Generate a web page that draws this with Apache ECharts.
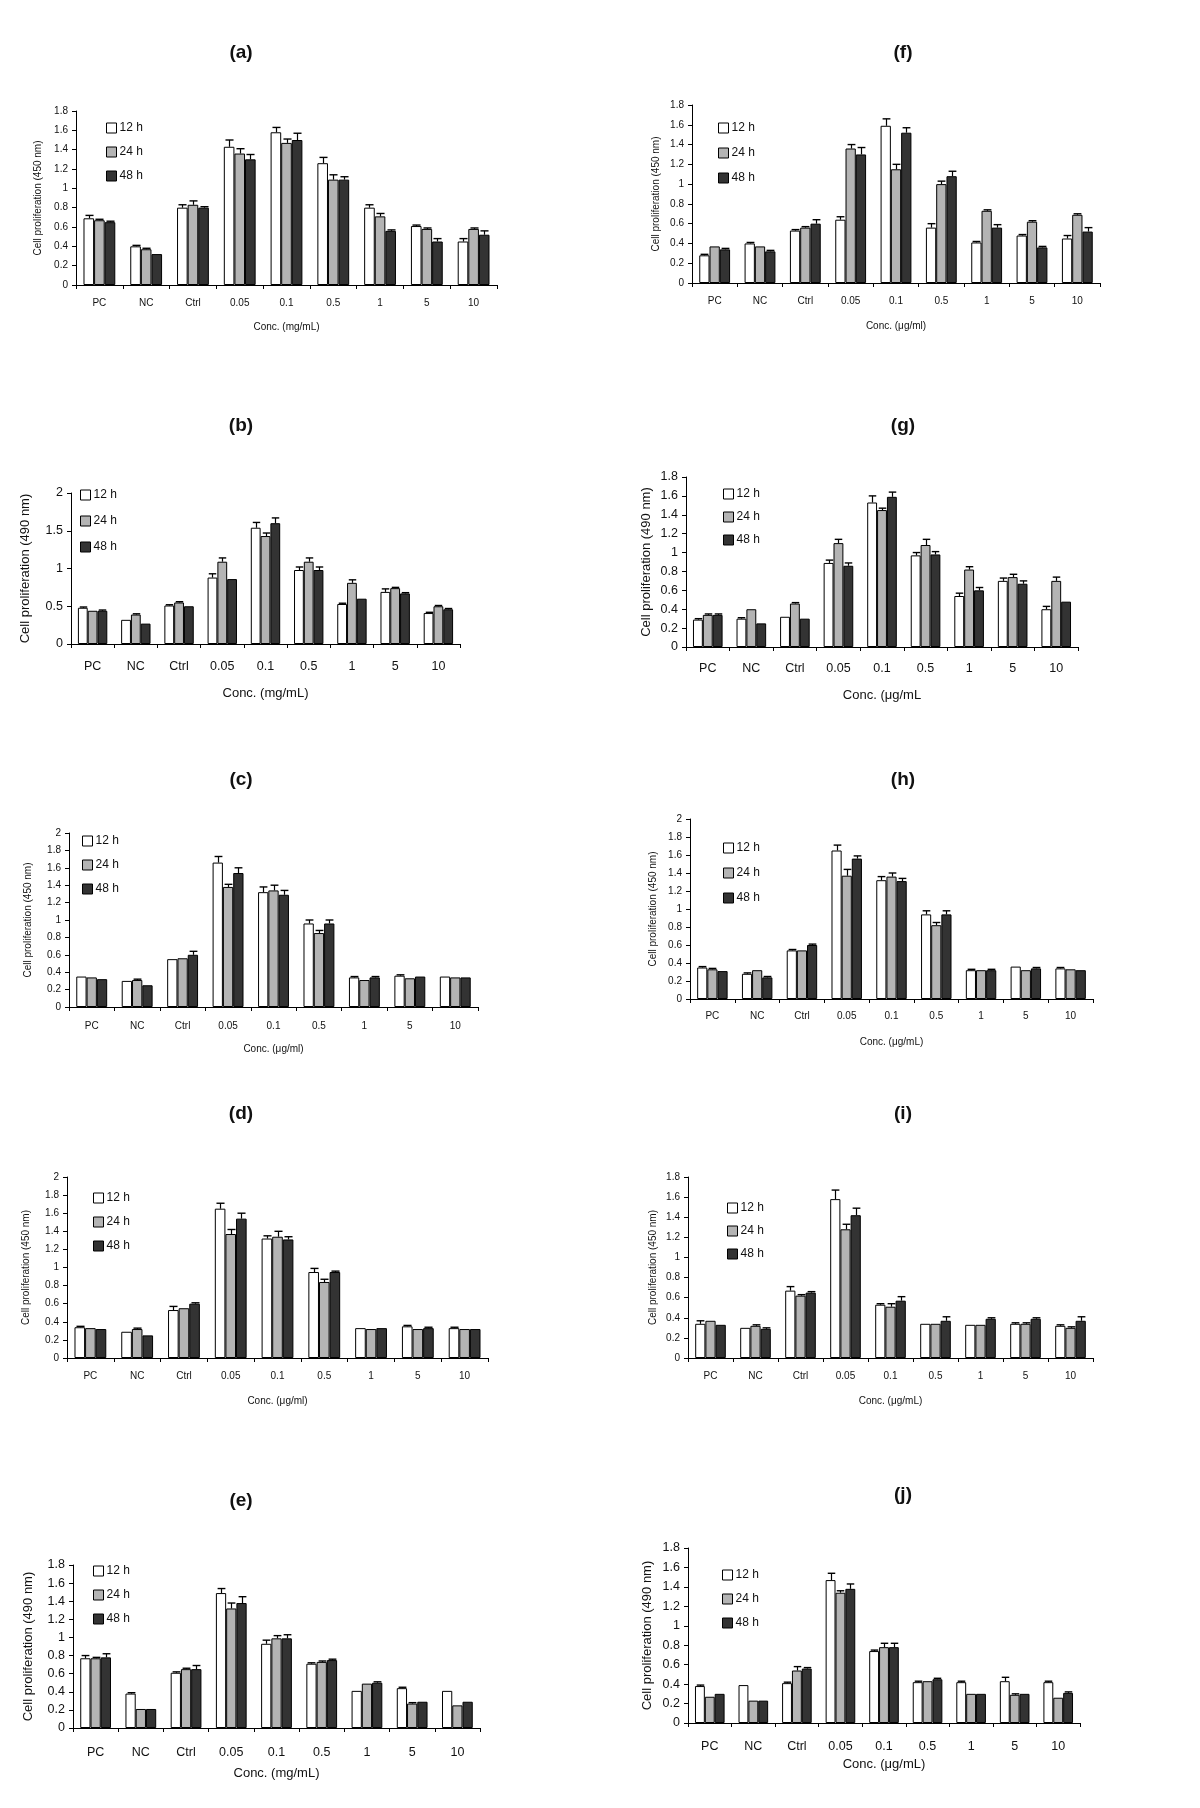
<!DOCTYPE html>
<html>
<head>
<meta charset="utf-8">
<script src="https://cdn.jsdelivr.net/npm/echarts@6/dist/echarts.min.js"></script>
<style>
html,body{margin:0;padding:0;background:#fff;}
#chart{width:1200px;height:1808px;}
</style>
</head>
<body>
<div id="chart"></div>
<script>
// ---------- shared ----------
const categories = ['PC', 'NC', 'Ctrl', '0.05', '0.1', '0.5', '1', '5', '10'];
const seriesNames = ['12 h', '24 h', '48 h'];

// ---------- panel (a) ----------
const a_12h = [0.69, 0.40, 0.80, 1.43, 1.58, 1.26, 0.80, 0.61, 0.45];
const a_24h = [0.67, 0.37, 0.83, 1.36, 1.47, 1.09, 0.71, 0.58, 0.58];
const a_48h = [0.65, 0.32, 0.80, 1.30, 1.50, 1.09, 0.56, 0.45, 0.52];
const a_e12 = [0.03, 0.01, 0.03, 0.07, 0.05, 0.06, 0.03, 0.01, 0.03];
const a_e24 = [0.01, 0.01, 0.04, 0.05, 0.04, 0.05, 0.03, 0.01, 0.01];
const a_e48 = [0.01, 0.00, 0.01, 0.05, 0.07, 0.03, 0.01, 0.03, 0.04];

// ---------- panel (f) ----------
const f_12h = [0.28, 0.40, 0.53, 0.64, 1.59, 0.56, 0.41, 0.48, 0.45];
const f_24h = [0.37, 0.37, 0.56, 1.36, 1.15, 1.00, 0.73, 0.62, 0.69];
const f_48h = [0.34, 0.32, 0.60, 1.30, 1.52, 1.08, 0.56, 0.36, 0.52];
const f_e12 = [0.01, 0.01, 0.01, 0.03, 0.07, 0.04, 0.01, 0.01, 0.03];
const f_e24 = [0.00, 0.00, 0.01, 0.04, 0.05, 0.03, 0.01, 0.01, 0.01];
const f_e48 = [0.01, 0.01, 0.04, 0.07, 0.05, 0.05, 0.03, 0.01, 0.04];

// ---------- panel (b) ----------
const b_12h = [0.48, 0.32, 0.51, 0.88, 1.54, 0.98, 0.53, 0.69, 0.41];
const b_24h = [0.44, 0.39, 0.55, 1.09, 1.43, 1.09, 0.81, 0.74, 0.50];
const b_48h = [0.44, 0.27, 0.50, 0.86, 1.60, 0.98, 0.60, 0.67, 0.46];
const b_e12 = [0.01, 0.00, 0.01, 0.05, 0.07, 0.04, 0.01, 0.04, 0.01];
const b_e24 = [0.00, 0.01, 0.01, 0.05, 0.04, 0.05, 0.04, 0.01, 0.01];
const b_e48 = [0.01, 0.00, 0.00, 0.00, 0.07, 0.04, 0.00, 0.01, 0.01];

// ---------- panel (g) ----------
const g_12h = [0.29, 0.30, 0.32, 0.89, 1.53, 0.97, 0.54, 0.70, 0.40];
const g_24h = [0.34, 0.40, 0.46, 1.10, 1.45, 1.08, 0.82, 0.74, 0.70];
const g_48h = [0.34, 0.25, 0.30, 0.86, 1.59, 0.98, 0.60, 0.67, 0.48];
const g_e12 = [0.01, 0.01, 0.00, 0.03, 0.07, 0.03, 0.03, 0.03, 0.03];
const g_e24 = [0.01, 0.00, 0.01, 0.04, 0.02, 0.06, 0.03, 0.03, 0.04];
const g_e48 = [0.01, 0.00, 0.00, 0.03, 0.05, 0.03, 0.03, 0.03, 0.00];

// ---------- panel (c) ----------
const c_12h = [0.35, 0.30, 0.55, 1.66, 1.32, 0.96, 0.34, 0.36, 0.35];
const c_24h = [0.34, 0.31, 0.56, 1.38, 1.34, 0.85, 0.31, 0.33, 0.34];
const c_48h = [0.32, 0.25, 0.60, 1.54, 1.29, 0.96, 0.34, 0.35, 0.34];
const c_e12 = [0.00, 0.00, 0.00, 0.07, 0.06, 0.04, 0.01, 0.01, 0.00];
const c_e24 = [0.00, 0.01, 0.00, 0.03, 0.06, 0.03, 0.00, 0.00, 0.00];
const c_e48 = [0.00, 0.00, 0.04, 0.06, 0.05, 0.04, 0.01, 0.00, 0.00];

// ---------- panel (h) ----------
const h_12h = [0.35, 0.28, 0.54, 1.65, 1.32, 0.94, 0.32, 0.36, 0.34];
const h_24h = [0.33, 0.32, 0.54, 1.37, 1.36, 0.82, 0.32, 0.32, 0.33];
const h_48h = [0.31, 0.24, 0.60, 1.56, 1.31, 0.94, 0.32, 0.34, 0.32];
const h_e12 = [0.01, 0.01, 0.01, 0.06, 0.04, 0.04, 0.01, 0.00, 0.01];
const h_e24 = [0.01, 0.00, 0.00, 0.07, 0.04, 0.03, 0.00, 0.00, 0.00];
const h_e48 = [0.00, 0.01, 0.01, 0.03, 0.03, 0.04, 0.01, 0.01, 0.00];

// ---------- panel (d) ----------
const d_12h = [0.34, 0.29, 0.53, 1.65, 1.32, 0.95, 0.33, 0.35, 0.33];
const d_24h = [0.33, 0.32, 0.55, 1.37, 1.34, 0.84, 0.32, 0.32, 0.32];
const d_48h = [0.32, 0.25, 0.60, 1.54, 1.31, 0.95, 0.33, 0.33, 0.32];
const d_e12 = [0.01, 0.00, 0.04, 0.06, 0.03, 0.04, 0.00, 0.01, 0.01];
const d_e24 = [0.00, 0.01, 0.00, 0.05, 0.06, 0.03, 0.00, 0.00, 0.00];
const d_e48 = [0.00, 0.00, 0.01, 0.06, 0.03, 0.01, 0.00, 0.01, 0.00];

// ---------- panel (i) ----------
const i_12h = [0.34, 0.30, 0.67, 1.58, 0.53, 0.34, 0.33, 0.34, 0.32];
const i_24h = [0.37, 0.32, 0.62, 1.28, 0.51, 0.34, 0.33, 0.34, 0.30];
const i_48h = [0.33, 0.29, 0.65, 1.42, 0.57, 0.37, 0.39, 0.39, 0.37];
const i_e12 = [0.03, 0.00, 0.04, 0.09, 0.01, 0.00, 0.00, 0.01, 0.01];
const i_e24 = [0.00, 0.01, 0.01, 0.05, 0.03, 0.00, 0.00, 0.01, 0.01];
const i_e48 = [0.00, 0.01, 0.01, 0.07, 0.04, 0.04, 0.01, 0.01, 0.04];

// ---------- panel (e) ----------
const e_12h = [0.77, 0.38, 0.61, 1.49, 0.93, 0.71, 0.41, 0.44, 0.41];
const e_24h = [0.77, 0.21, 0.65, 1.32, 0.99, 0.73, 0.49, 0.27, 0.25];
const e_48h = [0.78, 0.21, 0.65, 1.38, 0.99, 0.75, 0.50, 0.29, 0.29];
const e_e12 = [0.03, 0.01, 0.01, 0.05, 0.04, 0.01, 0.00, 0.01, 0.00];
const e_e24 = [0.01, 0.00, 0.01, 0.06, 0.03, 0.01, 0.00, 0.01, 0.00];
const e_e48 = [0.04, 0.00, 0.04, 0.07, 0.04, 0.01, 0.01, 0.00, 0.00];

// ---------- panel (j) ----------
const j_12h = [0.38, 0.39, 0.41, 1.47, 0.74, 0.42, 0.42, 0.43, 0.42];
const j_24h = [0.27, 0.23, 0.54, 1.34, 0.78, 0.43, 0.30, 0.29, 0.26];
const j_48h = [0.30, 0.23, 0.56, 1.38, 0.78, 0.45, 0.30, 0.30, 0.31];
const j_e12 = [0.01, 0.00, 0.01, 0.07, 0.01, 0.01, 0.01, 0.04, 0.01];
const j_e24 = [0.00, 0.00, 0.04, 0.02, 0.04, 0.00, 0.00, 0.01, 0.00];
const j_e48 = [0.00, 0.00, 0.01, 0.05, 0.04, 0.01, 0.00, 0.00, 0.01];

// ---------- axis ranges / labels ----------
const yMax_a = 1.8, yStep_a = 0.2;
const yMax_f = 1.8, yStep_f = 0.2;
const yMax_b = 2, yStep_b = 0.5;
const yMax_g = 1.8, yStep_g = 0.2;
const yMax_c = 2, yStep_c = 0.2;
const yMax_h = 2, yStep_h = 0.2;
const yMax_d = 2, yStep_d = 0.2;
const yMax_i = 1.8, yStep_i = 0.2;
const yMax_e = 1.8, yStep_e = 0.2;
const yMax_j = 1.8, yStep_j = 0.2;

const titles = ['(a)', '(f)', '(b)', '(g)', '(c)', '(h)', '(d)', '(i)', '(e)', '(j)'];
const xNames = ['Conc. (mg/mL)', 'Conc. (\u03bcg/ml)', 'Conc. (mg/mL)', 'Conc. (\u03bcg/mL', 'Conc. (\u03bcg/ml)',
                'Conc. (\u03bcg/mL)', 'Conc. (\u03bcg/ml)', 'Conc. (\u03bcg/mL)', 'Conc. (mg/mL)', 'Conc. (\u03bcg/mL)'];
const yNames = ['Cell proliferation (450 nm)', 'Cell proliferation (450 nm)', 'Cell proliferation (490 nm)',
                'Cell proliferation (490 nm)', 'Cell proliferation (450 nm)', 'Cell proliferation (450 nm)',
                'Cell proliferation (450 nm)', 'Cell proliferation (450 nm)', 'Cell proliferation (490 nm)',
                'Cell proliferation (490 nm)'];

// ---------- assemble panels ----------
const panelData = [
  {v: [a_12h, a_24h, a_48h], e: [a_e12, a_e24, a_e48], max: yMax_a, step: yStep_a},
  {v: [f_12h, f_24h, f_48h], e: [f_e12, f_e24, f_e48], max: yMax_f, step: yStep_f},
  {v: [b_12h, b_24h, b_48h], e: [b_e12, b_e24, b_e48], max: yMax_b, step: yStep_b},
  {v: [g_12h, g_24h, g_48h], e: [g_e12, g_e24, g_e48], max: yMax_g, step: yStep_g},
  {v: [c_12h, c_24h, c_48h], e: [c_e12, c_e24, c_e48], max: yMax_c, step: yStep_c},
  {v: [h_12h, h_24h, h_48h], e: [h_e12, h_e24, h_e48], max: yMax_h, step: yStep_h},
  {v: [d_12h, d_24h, d_48h], e: [d_e12, d_e24, d_e48], max: yMax_d, step: yStep_d},
  {v: [i_12h, i_24h, i_48h], e: [i_e12, i_e24, i_e48], max: yMax_i, step: yStep_i},
  {v: [e_12h, e_24h, e_48h], e: [e_e12, e_e24, e_e48], max: yMax_e, step: yStep_e},
  {v: [j_12h, j_24h, j_48h], e: [j_e12, j_e24, j_e48], max: yMax_j, step: yStep_j}
];

// layout: grid box, title pos, legend pos, font sizes, gaps
const layout = [
  {l: 76,  t: 111,  w: 421, h: 174, tx: 236, ty: 48,   lgx: 101, lgy: 117,  lgGap: 12, fs: 10, nfs: 10, lfs: 12, xnGap: 37, ynGap: 33, lm: 13},
  {l: 692, t: 105,  w: 408, h: 178, tx: 898, ty: 48,   lgx: 713, lgy: 117,  lgGap: 13, fs: 10, nfs: 10, lfs: 12, xnGap: 38, ynGap: 31, lm: 13},
  {l: 71,  t: 493,  w: 389, h: 151, tx: 236, ty: 421,  lgx: 75,  lgy: 484,  lgGap: 14, fs: 12.5, nfs: 13, lfs: 12, xnGap: 43, ynGap: 39, lm: 16},
  {l: 686, t: 477,  w: 392, h: 170, tx: 898, ty: 421,  lgx: 718, lgy: 483,  lgGap: 11, fs: 12.5, nfs: 13, lfs: 12, xnGap: 42, ynGap: 33, lm: 15},
  {l: 69,  t: 833,  w: 409, h: 174, tx: 236, ty: 775,  lgx: 77,  lgy: 830,  lgGap: 12, fs: 10, nfs: 10, lfs: 12, xnGap: 37, ynGap: 36, lm: 14},
  {l: 690, t: 819,  w: 403, h: 180, tx: 898, ty: 775,  lgx: 718, lgy: 837,  lgGap: 13, fs: 10, nfs: 10, lfs: 12, xnGap: 38, ynGap: 32, lm: 12},
  {l: 67,  t: 1177, w: 421, h: 181, tx: 236, ty: 1109, lgx: 88,  lgy: 1187, lgGap: 12, fs: 10, nfs: 10, lfs: 12, xnGap: 38, ynGap: 36, lm: 13},
  {l: 688, t: 1177, w: 405, h: 181, tx: 898, ty: 1109, lgx: 722, lgy: 1197, lgGap: 11, fs: 10, nfs: 10, lfs: 12, xnGap: 38, ynGap: 30, lm: 13},
  {l: 73,  t: 1565, w: 407, h: 163, tx: 236, ty: 1496, lgx: 88,  lgy: 1560, lgGap: 12, fs: 12.5, nfs: 13, lfs: 12, xnGap: 39, ynGap: 38, lm: 18},
  {l: 688, t: 1548, w: 392, h: 175, tx: 898, ty: 1490, lgx: 717, lgy: 1564, lgGap: 12, fs: 12.5, nfs: 13, lfs: 12, xnGap: 35, ynGap: 34, lm: 17}
];

const barColors = ['#ffffff', '#b4b4b4', '#333333'];
const CAT_GAP = 0.32;
const FONT = '"Liberation Sans", Arial, sans-serif';
const TXT = '#111111';

const option = {
  backgroundColor: '#ffffff',
  animation: false,
  title: [], legend: [], grid: [], xAxis: [], yAxis: [], series: []
};

function errRender(params, api) {
  const cat = api.value(0), val = api.value(1), err = api.value(2), k = api.value(3);
  if (!(err > 0)) return null;
  const p = api.coord([cat, val]);
  const pt = api.coord([cat, val + err]);
  const band = api.size([1, 0])[0];
  const bw = band * (1 - CAT_GAP) / 3;
  const x = Math.round(p[0] + (k - 1) * bw) + 0.5;
  const cap = bw * 0.38;
  return {
    type: 'group',
    children: [
      {type: 'line', shape: {x1: x, y1: p[1], x2: x, y2: pt[1]}, style: {stroke: '#000', lineWidth: 1.2}},
      {type: 'line', shape: {x1: x - cap, y1: pt[1], x2: x + cap, y2: pt[1]}, style: {stroke: '#000', lineWidth: 1.4}}
    ]
  };
}

panelData.forEach((pd, idx) => {
  const L = layout[idx];
  option.title.push({
    text: titles[idx], left: L.tx, top: L.ty, textAlign: 'center', textVerticalAlign: 'middle',
    textStyle: {fontFamily: FONT, fontSize: 19, fontWeight: 'bold', color: '#111'}
  });
  option.grid.push({left: L.l, top: L.t, width: L.w, height: L.h, containLabel: false});
  option.xAxis.push({
    type: 'category', gridIndex: idx, data: categories,
    name: xNames[idx], nameLocation: 'middle', nameGap: L.xnGap,
    nameTextStyle: {fontFamily: FONT, fontSize: L.nfs, color: TXT},
    axisLine: {lineStyle: {color: '#000', width: 1}},
    axisTick: {show: true, length: 4, lineStyle: {color: '#000'}},
    axisLabel: {fontFamily: FONT, fontSize: L.fs, color: TXT, margin: L.lm, interval: 0},
    splitLine: {show: false}
  });
  option.yAxis.push({
    type: 'value', gridIndex: idx, min: 0, max: pd.max, interval: pd.step,
    name: yNames[idx], nameLocation: 'middle', nameGap: L.ynGap, nameRotate: 90,
    nameTextStyle: {fontFamily: FONT, fontSize: L.nfs, color: TXT},
    axisLine: {show: true, lineStyle: {color: '#000', width: 1}},
    axisTick: {show: true, length: 4, lineStyle: {color: '#000'}},
    axisLabel: {fontFamily: FONT, fontSize: L.fs, color: TXT, margin: 8},
    splitLine: {show: false}
  });
  option.legend.push({
    orient: 'vertical', left: L.lgx, top: L.lgy, itemGap: L.lgGap,
    itemWidth: 10, itemHeight: 10, icon: 'rect', selectedMode: false,
    data: seriesNames.map((n, k) => ({name: n, itemStyle: {color: barColors[k], borderColor: '#000', borderWidth: 1}})),
    textStyle: {fontFamily: FONT, fontSize: L.lfs, color: TXT, padding: [0, 0, 0, -2]}
  });
  pd.v.forEach((vals, k) => {
    option.series.push({
      type: 'bar', name: seriesNames[k], xAxisIndex: idx, yAxisIndex: idx,
      data: vals, barGap: '0%', barCategoryGap: (CAT_GAP * 100) + '%',
      itemStyle: {color: barColors[k], borderColor: '#000', borderWidth: 1},
      emphasis: {disabled: true}
    });
  });
  pd.v.forEach((vals, k) => {
    option.series.push({
      type: 'custom', xAxisIndex: idx, yAxisIndex: idx, z: 5,
      renderItem: errRender,
      data: vals.map((v, c) => [c, v, pd.e[k][c], k]),
      encode: {x: 0, y: 1}, silent: true
    });
  });
});

const chart = echarts.init(document.getElementById('chart'), null, {renderer: 'canvas'});
chart.setOption(option);
</script>
</body>
</html>
